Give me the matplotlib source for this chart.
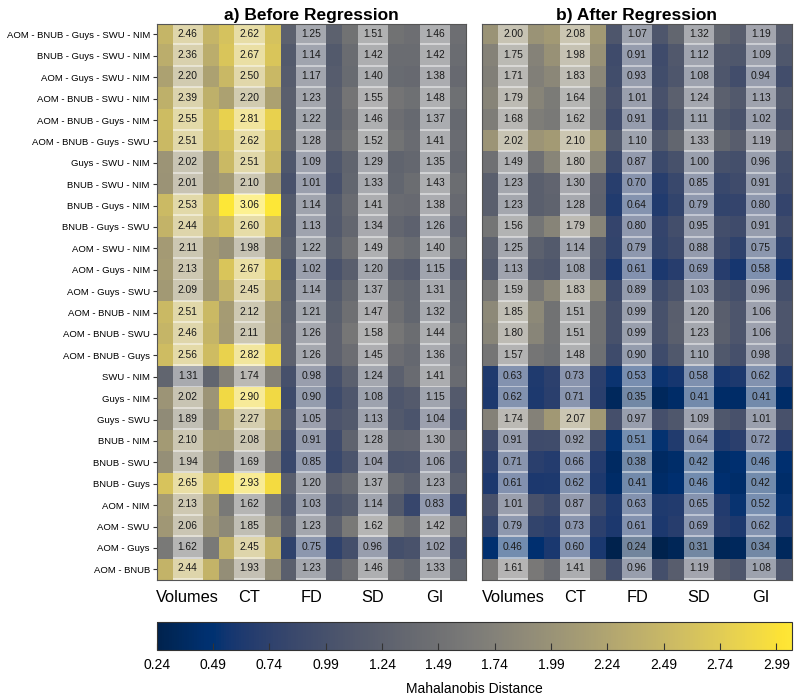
import matplotlib
matplotlib.use("Agg")
import matplotlib.pyplot as plt
import numpy as np
from matplotlib.patches import Rectangle

plt.rcParams['font.family'] = ['Liberation Sans', 'DejaVu Sans']

row_labels = ['AOM - BNUB - Guys - SWU - NIM', 'BNUB - Guys - SWU - NIM',
              'AOM - Guys - SWU - NIM', 'AOM - BNUB - SWU - NIM',
              'AOM - BNUB - Guys - NIM', 'AOM - BNUB - Guys - SWU',
              'Guys - SWU - NIM', 'BNUB - SWU - NIM', 'BNUB - Guys - NIM',
              'BNUB - Guys - SWU', 'AOM - SWU - NIM', 'AOM - Guys - NIM',
              'AOM - Guys - SWU', 'AOM - BNUB - NIM', 'AOM - BNUB - SWU',
              'AOM - BNUB - Guys', 'SWU - NIM', 'Guys - NIM', 'Guys - SWU',
              'BNUB - NIM', 'BNUB - SWU', 'BNUB - Guys', 'AOM - NIM',
              'AOM - SWU', 'AOM - Guys', 'AOM - BNUB']
metrics = ['Volumes', 'CT', 'FD', 'SD', 'GI']

#-------------------------before regression----------------------------------
before_volumes = [2.46, 2.36, 2.20, 2.39, 2.55, 2.51, 2.02, 2.01, 2.53, 2.44, 2.11, 2.13, 2.09,
                  2.51, 2.46, 2.56, 1.31, 2.02, 1.89, 2.10, 1.94, 2.65, 2.13, 2.06, 1.62, 2.44]
before_ct = [2.62, 2.67, 2.50, 2.20, 2.81, 2.62, 2.51, 2.10, 3.06, 2.60, 1.98, 2.67, 2.45,
             2.12, 2.11, 2.82, 1.74, 2.90, 2.27, 2.08, 1.69, 2.93, 1.62, 1.85, 2.45, 1.93]
before_fd = [1.25, 1.14, 1.17, 1.23, 1.22, 1.28, 1.09, 1.01, 1.14, 1.13, 1.22, 1.02, 1.14,
             1.21, 1.26, 1.26, 0.98, 0.90, 1.05, 0.91, 0.85, 1.20, 1.03, 1.23, 0.75, 1.23]
before_sd = [1.51, 1.42, 1.40, 1.55, 1.46, 1.52, 1.29, 1.33, 1.41, 1.34, 1.49, 1.20, 1.37,
             1.47, 1.58, 1.45, 1.24, 1.08, 1.13, 1.28, 1.04, 1.37, 1.14, 1.62, 0.96, 1.46]
before_gi = [1.46, 1.42, 1.38, 1.48, 1.37, 1.41, 1.35, 1.43, 1.38, 1.26, 1.40, 1.15, 1.31,
             1.32, 1.44, 1.36, 1.41, 1.15, 1.04, 1.30, 1.06, 1.23, 0.83, 1.42, 1.02, 1.33]

#-------------------------after regression----------------------------------
after_volumes = [2.00, 1.75, 1.71, 1.79, 1.68, 2.02, 1.49, 1.23, 1.23, 1.56, 1.25, 1.13, 1.59,
                 1.85, 1.80, 1.57, 0.63, 0.62, 1.74, 0.91, 0.71, 0.61, 1.01, 0.79, 0.46, 1.61]
after_ct = [2.08, 1.98, 1.83, 1.64, 1.62, 2.10, 1.80, 1.30, 1.28, 1.79, 1.14, 1.08, 1.83,
            1.51, 1.51, 1.48, 0.73, 0.71, 2.07, 0.92, 0.66, 0.62, 0.87, 0.73, 0.60, 1.41]
after_fd = [1.07, 0.91, 0.93, 1.01, 0.91, 1.10, 0.87, 0.70, 0.64, 0.80, 0.79, 0.61, 0.89,
            0.99, 0.99, 0.90, 0.53, 0.35, 0.97, 0.51, 0.38, 0.41, 0.63, 0.61, 0.24, 0.96]
after_sd = [1.32, 1.12, 1.08, 1.24, 1.11, 1.33, 1.00, 0.85, 0.79, 0.95, 0.88, 0.69, 1.03,
            1.20, 1.23, 1.10, 0.58, 0.41, 1.09, 0.64, 0.42, 0.46, 0.65, 0.69, 0.31, 1.19]
after_gi = [1.19, 1.09, 0.94, 1.13, 1.02, 1.19, 0.96, 0.91, 0.80, 0.91, 0.75, 0.58, 0.96,
            1.06, 1.06, 0.98, 0.62, 0.41, 1.01, 0.72, 0.46, 0.42, 0.52, 0.62, 0.34, 1.08]

before = np.column_stack([before_volumes, before_ct, before_fd, before_sd, before_gi])
after = np.column_stack([after_volumes, after_ct, after_fd, after_sd, after_gi])

vmin = min(before.min(), after.min())
vmax = max(before.max(), after.max())
cmap = plt.get_cmap('cividis')

fig = plt.figure(figsize=(8, 6.98), dpi=100)
ax1 = fig.add_axes([0.196, 0.169, 0.386, 0.797])
ax2 = fig.add_axes([0.6025, 0.169, 0.3875, 0.797])
cax = fig.add_axes([0.196, 0.069, 0.794, 0.040])


def draw_panel(ax, data, title, show_rows):
    im = ax.imshow(data, cmap=cmap, vmin=vmin, vmax=vmax, aspect='auto',
                   interpolation='nearest')
    nr, nc = data.shape
    for i in range(nr):
        for j in range(nc):
            # light box behind each number, with a brighter line at its base
            ax.add_patch(Rectangle((j - 0.245, i - 0.5), 0.49, 0.91,
                                   facecolor='white', alpha=0.45, lw=0))
            ax.add_patch(Rectangle((j - 0.245, i + 0.41), 0.49, 0.09,
                                   facecolor='white', alpha=0.7, lw=0))
            ax.text(j, i - 0.04, '%.2f' % data[i, j], ha='center', va='center',
                    fontsize=7.4, color='#1a1a1a')
    ax.set_xticks(range(nc))
    ax.set_xticklabels(metrics, fontsize=11.8)
    ax.tick_params(axis='x', length=0, pad=7)
    ax.set_yticks(range(nr))
    if show_rows:
        ax.set_yticklabels(row_labels, fontsize=6.8)
        ax.tick_params(axis='y', length=3, width=0.8, pad=2, color='#333333')
    else:
        ax.set_yticklabels([])
        ax.tick_params(axis='y', length=0)
    for s in ax.spines.values():
        s.set_color('#555555')
        s.set_linewidth(0.8)
    ax.set_title(title, fontsize=12.5, fontweight='bold', pad=3)
    return im


im = draw_panel(ax1, before, 'a) Before Regression', True)
draw_panel(ax2, after, 'b) After Regression', False)

cb = fig.colorbar(im, cax=cax, orientation='horizontal')
cb.set_ticks(np.arange(0.24, 3.0, 0.25))
cb.set_ticklabels(['%.2f' % t for t in np.arange(0.24, 3.0, 0.25)])
cax.tick_params(axis='x', direction='in', length=5, width=0.8, labelsize=10, pad=6,
                color='#333333')
cb.outline.set_edgecolor('#333333')
cb.outline.set_linewidth(0.8)
cb.set_label('Mahalanobis Distance', fontsize=10, labelpad=7)

fig.savefig("out.png", dpi=100)
